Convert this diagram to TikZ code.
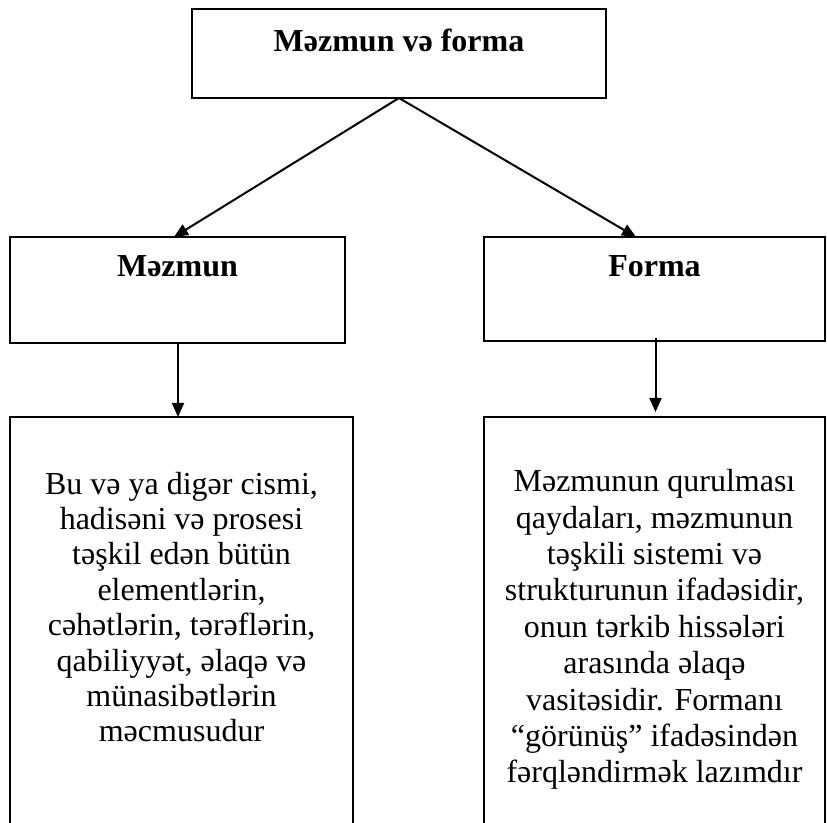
\documentclass[tikz,border=0pt]{standalone}
\usepackage{fontspec}
\setmainfont{Liberation Serif}
\usetikzlibrary{arrows.meta,calc}
\begin{document}
\begin{tikzpicture}[x=0.5pt,y=-0.5pt,
  box/.style={draw, line width=1pt, inner sep=0pt, outer sep=0pt, rectangle},
  conn/.style={line width=1pt, -{Triangle[length=7pt,width=6pt]}},
  titletext/.style={font=\bfseries\fontsize{16}{18}\selectfont, inner sep=0pt, anchor=base},
  bodytext/.style={align=center, inner sep=0pt, anchor=base}
]
\clip (0,0) rectangle (827,823);
\fill[white] (0,0) rectangle (827,823);
% boxes
\node[box, minimum width=207pt, minimum height=44.5pt] (top) at (399,53.5) {};
\node[box, minimum width=167.5pt, minimum height=53pt] (mz) at (177.5,290) {};
\node[box, minimum width=170.5pt, minimum height=52pt] (fm) at (654.5,289) {};
\node[box, minimum width=171.5pt, minimum height=216.5pt] (bl) at (181.5,633.5) {};
\node[box, minimum width=170.5pt, minimum height=216.5pt] (br) at (654.5,633.5) {};
% texts
\node[titletext] (ttop) at (399,52) {Məzmun və forma};
\node[titletext] (tmz) at (177.5,277) {Məzmun};
\node[titletext] (tfm) at (654.5,277) {Forma};
\node[bodytext, font=\fontsize{16}{17.7}\selectfont] (dmz) at (181.5,742)
  {Bu və ya digər cismi,\\ hadisəni və prosesi\\ təşkil edən bütün\\ elementlərin,\\ cəhətlərin, tərəflərin,\\ qabiliyyət, əlaqə və\\ münasibətlərin\\ məcmusudur};
\node[bodytext, font=\fontsize{16}{18.2}\selectfont] (dfm) at (654.5,783)
  {Məzmunun qurulması\\ qaydaları, məzmunun\\ təşkili sistemi və\\ strukturunun ifadəsidir,\\ onun tərkib hissələri\\ arasında əlaqə\\ vasitəsidir. Formanı\\ “görünüş” ifadəsindən\\ fərqləndirmək lazımdır};
% connectors
\draw[conn] (top.south) -- ([xshift=-1.75pt]mz.north);
\draw[conn] (top.south) -- ([xshift=-9.25pt]fm.north);
\draw[conn] ($(mz.south)+(0.25pt,0)$) -- ($(mz.south |- bl.north)+(0.25pt,0)$);
\draw[conn] ($(fm.south)+(0.5pt,1.5pt)$) -- ($(fm.south |- br.north)+(0.5pt,2.5pt)$);
\end{tikzpicture}
\end{document}
